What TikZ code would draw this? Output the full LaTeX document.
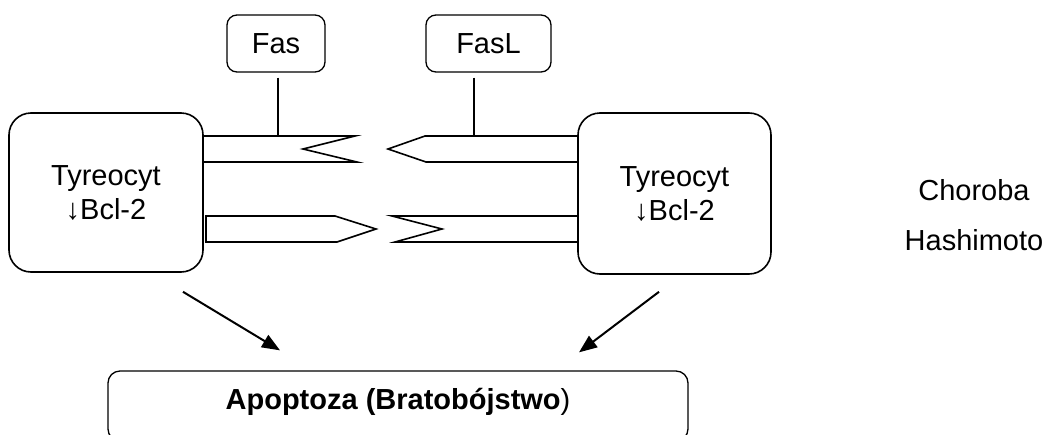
\documentclass[tikz,border=0pt]{standalone}
\usepackage{fontspec}
\setmainfont{Liberation Sans}
\usetikzlibrary{arrows.meta, positioning}

\begin{document}
\begin{tikzpicture}[
    x=1pt, y=-1pt,
    every node/.style={align=center, font=\fontsize{29}{34}\selectfont},
    cellbox/.style={rectangle, rounded corners=22pt, draw, line width=1.6pt, minimum width=194pt, minimum height=159pt},
    tagbox/.style={rectangle, rounded corners=10pt, draw, line width=1.3pt, minimum height=57pt},
    resultbox/.style={rectangle, rounded corners=12pt, draw, line width=1.3pt, minimum width=580pt, minimum height=70pt, text height=21pt, text depth=15pt},
    membrane/.style={line width=1.6pt, line join=miter},
    stalk/.style={line width=1.1pt, shorten <=5pt},
    arrow/.style={-{Triangle[length=18pt, width=14pt]}, line width=2pt}
]

\useasboundingbox (0,0) rectangle (1047,434);

% Nodes
\node[cellbox] (cellL) at (106,192.5) {Tyreocyt\\↓Bcl-2};
\node[cellbox, minimum width=193pt, minimum height=161pt] (cellR) at (674.5,193.5) {Tyreocyt\\↓Bcl-2};
\node[tagbox, minimum width=98pt] (fas) at (276,43.5) {Fas};
\node[tagbox, minimum width=125pt] (fasl) at (488.5,43.5) {FasL};
\node[resultbox] (apo) at (398,406) {\textbf{Apoptoza (Bratobójstwo})};
\node[font=\fontsize{29}{50}\selectfont] (disease) at (974,215.5) {Choroba\\Hashimoto};

% Receptors and ligands
\coordinate (fasTop) at (278,136);
\coordinate (faslTop) at (474,136);
\draw[membrane] (203,136) -- (355,136) -- (303,149) -- (357,162) -- (203,162);
\draw[membrane] (578,136) -- (425,136) -- (388,149) -- (426,162) -- (578,162);
\draw[membrane] (206,216) -- (335,216) -- (376,229) -- (337,242) -- (206,242) -- cycle;
\draw[membrane] (578,216) -- (392,216) -- (442,229) -- (395,242) -- (578,242);

% Connections
\draw[stalk] (fas.south -| fasTop) -- (fasTop);
\draw[stalk] (fasl.south -| faslTop) -- (faslTop);
\draw[arrow] ([xshift=77pt, yshift=-19pt]cellL.south) -- ([xshift=-118pt, yshift=20pt]apo.north);
\draw[arrow] ([xshift=-15.5pt, yshift=-17pt]cellR.south) -- ([xshift=181pt, yshift=18pt]apo.north);

\end{tikzpicture}
\end{document}
